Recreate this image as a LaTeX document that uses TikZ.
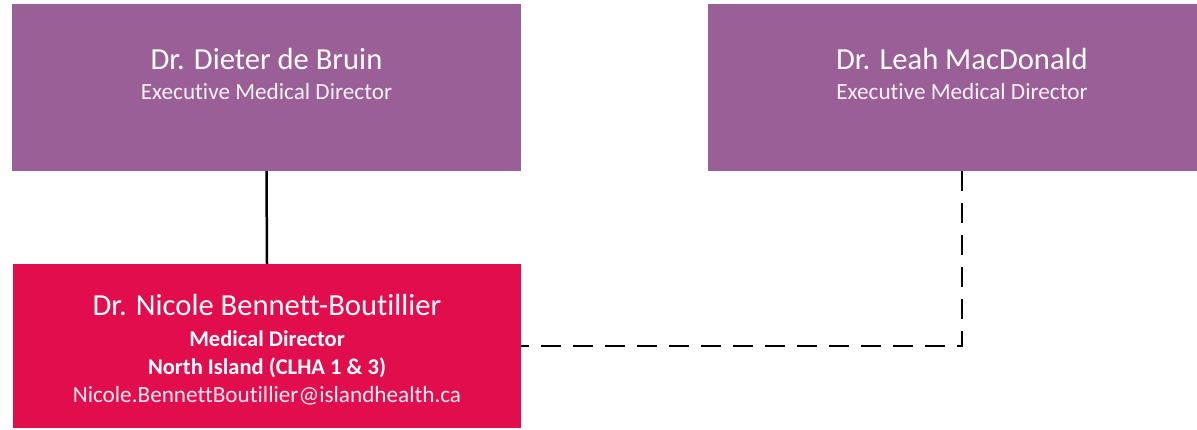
\documentclass[tikz,border=0pt]{standalone}
\usepackage{fontspec}
\setmainfont{Carlito}[Ligatures=NoCommon]
\usetikzlibrary{positioning}
\definecolor{execpurple}{HTML}{9B5F98}
\definecolor{medred}{HTML}{E20D4C}

\begin{document}
\begin{tikzpicture}[x=1pt,y=1pt,
    box/.style={rectangle,inner sep=0pt,minimum width=509pt,minimum height=167pt},
    personname/.style={text=white,font=\fontsize{30.6}{34}\selectfont,anchor=base},
    roletext/.style={text=white!92!execpurple,font=\fontsize{23.2}{26}\selectfont,anchor=base},
    infotext/.style={text=white,font=\fontsize{22.5}{26}\selectfont\bfseries,anchor=base}]
      \useasboundingbox (0,0) rectangle (1197,429);
      \draw
        (266.5, 341.5) node[box,fill=execpurple] (dieter){}
        (952.5, 341.5) node[box,fill=execpurple,minimum width=489pt] (leah){}
        (267.0, 83.0) node[box,fill=medred,minimum width=508pt,minimum height=164pt] (nicole){};
      % names and titles
      \node[personname] (dietername) at (266.5, 359) {Dr. Dieter de Bruin};
      \node[roletext] (dieterrole) at (266.5, 329) {Executive Medical Director};
      \node[personname] (leahname) at (962, 359) {Dr. Leah MacDonald};
      \node[roletext] (leahrole) at (962, 329) {Executive Medical Director};
      \node[personname] (nicolename) at (267, 114) {Dr. Nicole Bennett-Boutillier};
      \node[infotext] (nicolerole) at (267, 83) {Medical Director};
      \node[infotext] (nicolearea) at (267, 55) {North Island (CLHA 1 \& 3)};
      \node[roletext,text=white!92!medred] (nicolemail) at (267, 27) {Nicole.BennettBoutillier@islandhealth.ca};
      % reporting lines
      \draw[line width=2.5pt] (dieter.south) -- (nicole.north);
      \draw[line width=2.7pt,dash pattern=on 20pt off 12pt] ([xshift=9.5pt]leah.south) |- (nicole.east);
    \end{tikzpicture}
\end{document}
